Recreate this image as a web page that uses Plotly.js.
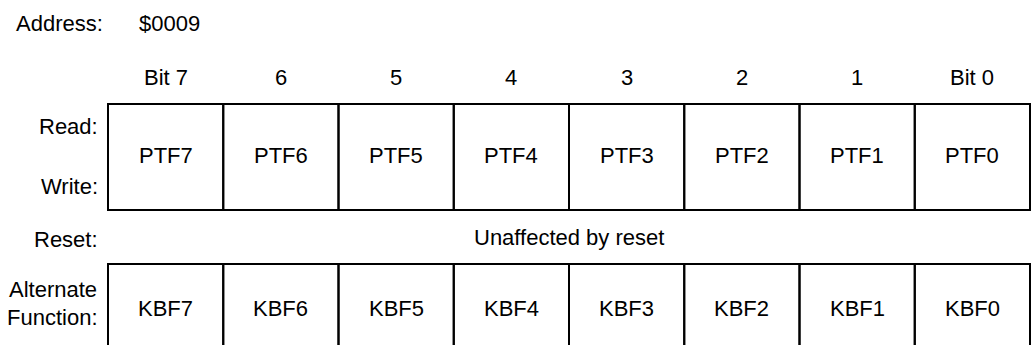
<!DOCTYPE html>
<html>
<head>
<meta charset="utf-8">
<script src="https://cdn.plot.ly/plotly-3.0.1.min.js"></script>
<style>html,body{margin:0;padding:0;background:#fff;}#chart{width:1031px;height:345px;}</style>
</head>
<body>
<div id="chart"></div>
<script>
// ---- data ----
const addressLabel = "Address:";
const addressValue = "$0009";
const bitLabels = ["Bit 7", "6", "5", "4", "3", "2", "1", "Bit 0"];
const readWriteFields = ["PTF7", "PTF6", "PTF5", "PTF4", "PTF3", "PTF2", "PTF1", "PTF0"];
const altFunctionFields = ["KBF7", "KBF6", "KBF5", "KBF4", "KBF3", "KBF2", "KBF1", "KBF0"];
const readLabel = "Read:";
const writeLabel = "Write:";
const resetLabel = "Reset:";
const resetValue = "Unaffected by reset";
const altLabels = ["Alternate", "Function:"];

// ---- layout geometry (pixels) ----
const W = 1031, H = 345;
const left = 108, right = 1030;
const nBits = bitLabels.length;
const cw = (right - left) / nBits;
const xr = [-left / cw, nBits + (W - right) / cw];

const FONT = {family: "Liberation Sans, Arial, Helvetica, sans-serif", size: 22, color: "#000"};
const shapes = [];
const annotations = [];
const lab = (x, y, text, xanchor) => annotations.push({
  x: x, y: y, xref: "x", yref: "y", text: text, showarrow: false,
  xanchor: xanchor || "center", yanchor: "middle", font: FONT
});
const px = p => (p - left) / cw;

// header
lab(px(14), 23, addressLabel, "left");
lab(px(137), 23, addressValue, "left");

bitLabels.forEach((b, i) => lab(i + 0.5, 77, b));

// Read/Write row
readWriteFields.forEach((f, i) => {
  shapes.push({type: "rect", xref: "x", yref: "y", x0: i, x1: i + 1, y0: 104, y1: 210,
               line: {color: "#000", width: 2}, fillcolor: "rgba(0,0,0,0)"});
  lab(i + 0.5, 155, f);
});
lab(px(100), 126, readLabel, "right");
lab(px(100), 186, writeLabel, "right");

// reset row
lab(px(100), 239, resetLabel, "right");
lab(nBits / 2, 237, resetValue);

// alternate function row
altFunctionFields.forEach((f, i) => {
  shapes.push({type: "rect", xref: "x", yref: "y", x0: i, x1: i + 1, y0: 264, y1: 400,
               line: {color: "#000", width: 2}, fillcolor: "rgba(0,0,0,0)"});
  lab(i + 0.5, 308, f);
});
lab(px(99), 289, altLabels[0], "right");
lab(px(100), 317, altLabels[1], "right");

const layout = {
  width: W, height: H,
  margin: {l: 0, r: 0, t: 0, b: 0, pad: 0},
  paper_bgcolor: "#fff", plot_bgcolor: "#fff",
  showlegend: false,
  xaxis: {range: xr, visible: false, fixedrange: true},
  yaxis: {range: [H, 0], visible: false, fixedrange: true},
  shapes: shapes,
  annotations: annotations
};

Plotly.newPlot("chart", [{x: [], y: [], type: "scatter", hoverinfo: "skip"}], layout,
  {staticPlot: true, displayModeBar: false});
</script>
</body>
</html>
